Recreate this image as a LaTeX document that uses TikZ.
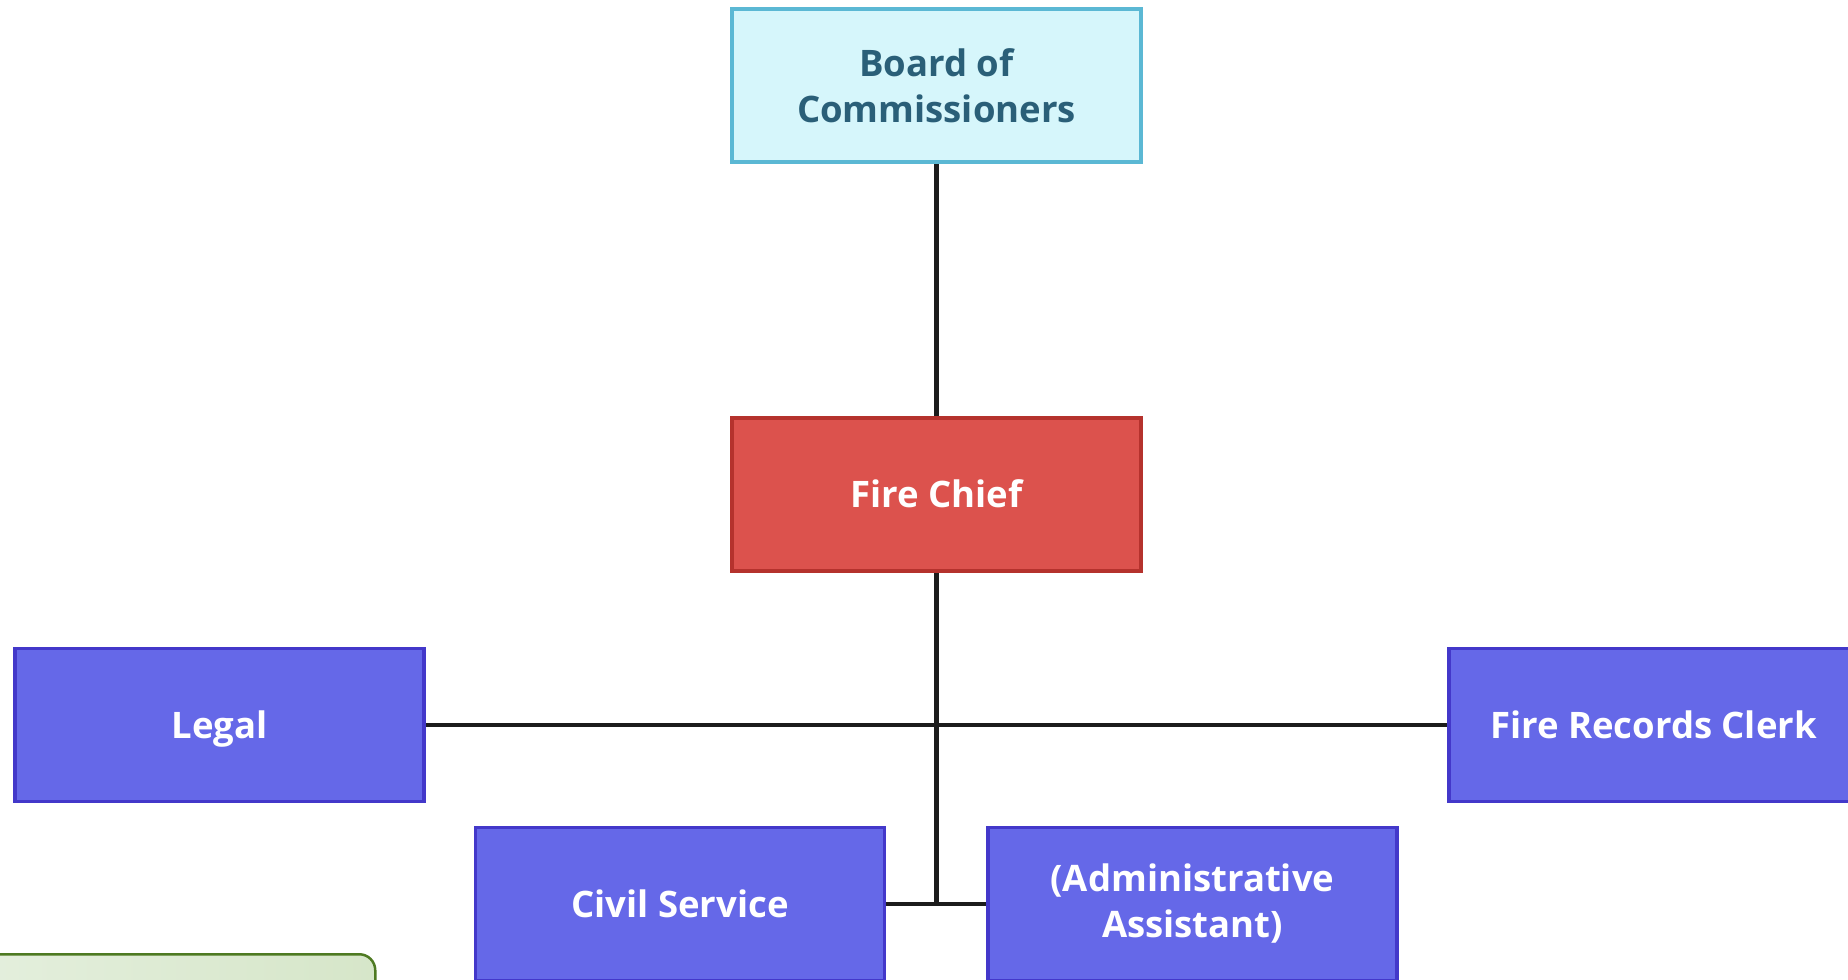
\documentclass[tikz,border=0pt]{standalone}
\usepackage{fontspec}
\setmainfont{Open Sans}
\definecolor{boardfill}{HTML}{D6F6FB}
\definecolor{boarddraw}{HTML}{5BB8D4}
\definecolor{boardtext}{HTML}{2A5F78}
\definecolor{chieffill}{HTML}{DC524D}
\definecolor{chiefdraw}{HTML}{B5322D}
\definecolor{unitfill}{HTML}{6568E8}
\definecolor{unitdraw}{HTML}{4338CA}
\definecolor{linecol}{HTML}{1C1C1C}
\definecolor{noteA}{HTML}{E4EFDD}
\definecolor{noteB}{HTML}{D6E6C9}
\definecolor{notedraw}{HTML}{4E7A22}
\tikzset{
  orgbox/.style={rectangle, line width=3.5pt, minimum width=409pt, minimum height=153pt,
    inner sep=0pt, align=center, font=\fontsize{36.5}{46}\selectfont\bfseries},
  oneline/.style={text height=26pt, text depth=0pt},
  boardbox/.style={orgbox, fill=boardfill, draw=boarddraw, text=boardtext},
  chiefbox/.style={orgbox, oneline, fill=chieffill, draw=chiefdraw, text=white},
  unitbox/.style={orgbox, fill=unitfill, draw=unitdraw, text=white},
  link/.style={draw=linecol, line width=4.5pt}
}
\begin{document}
\begin{tikzpicture}[x=1pt,y=-1pt]
\useasboundingbox (0,0) rectangle (1848,980);
\node[boardbox] (board) at (936.5,85.5) {Board of\\Commissioners};
\node[chiefbox] (chief) at (936.5,494.5) {Fire Chief};
\node[unitbox, oneline] (legal) at (219.5,725) {Legal};
\node[unitbox, oneline] (records) at (1653.5,725) {Fire Records Clerk};
\node[unitbox, oneline] (civil) at (680,904) {Civil Service};
\node[unitbox] (admin) at (1192.5,904) {(Administrative\\Assistant)};
\coordinate (hub) at (chief.south |- civil.east);
\draw[link] (board.south) -- (chief.north);
\draw[link] (chief.south) -- (hub);
\draw[link] (legal.east) -- (records.west);
\draw[link] (civil.east) -- (admin.west);
\node[draw=notedraw, line width=2.5pt, rounded corners=16pt, left color=noteA, right color=noteB,
  minimum width=400pt, minimum height=80pt, inner sep=0pt, anchor=north west] (note) at (-26,953) {};
\end{tikzpicture}
\end{document}
